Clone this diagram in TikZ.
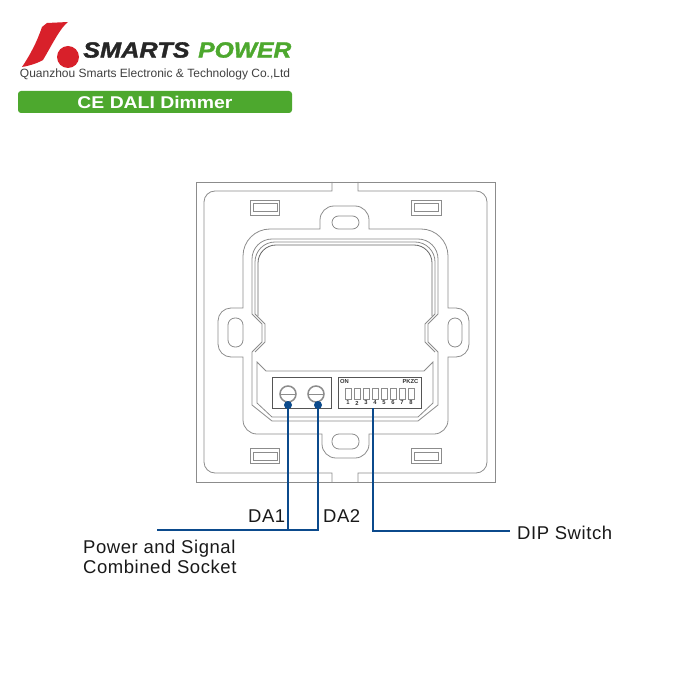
\documentclass[tikz,border=0pt]{standalone}
\usepackage{fontspec}
\setmainfont{Liberation Sans}
\newfontfamily\labelfont[LetterSpace=3]{Liberation Sans}
\newfontfamily\logofont[BoldItalicFeatures={FakeBold=1.5}]{Liberation Sans}
\usetikzlibrary{calc}
\definecolor{clrwire}{HTML}{0B4A8C}
\definecolor{clrframe}{HTML}{8C8C8C}
\definecolor{clrinner}{HTML}{666666}
\definecolor{clrbox}{HTML}{555555}
\definecolor{clrred}{HTML}{D8202A}
\definecolor{clrgreen}{HTML}{4DA82E}
\tikzset{
    frame/.style={draw=clrframe, line width=0.8pt},
    box/.style={draw=clrbox, line width=0.9pt},
    wire/.style={draw=clrwire, line width=1.6pt},
    dot/.style={fill=clrwire, circle, inner sep=0pt, minimum size=8pt},
    callout/.style={inner sep=0pt, text=black!90, font=\labelfont\fontsize{18.5}{20}\selectfont},
    tiny/.style={inner sep=0pt, text=black!80, font=\fontsize{5.8}{6}\selectfont\bfseries},
    logotext/.style={anchor=west, inner sep=0pt, font=\logofont\fontsize{22}{24}\selectfont\bfseries\itshape},
}

\begin{document}
\begin{tikzpicture}[x=1pt,y=-1pt]

    \useasboundingbox (0,0) rectangle (700,700);

    % logo
    \fill[clrred] (47,23) -- (68,22) .. controls (60,28) and (52,45) .. (43,60) .. controls (36,64) and (28,66) .. (22,67)
        .. controls (30,55) and (37,42) .. (42,27) -- cycle;
    \fill[clrred] (68,57) circle (11);
    \node[logotext, text=black!85] (smarts) at (83,50) {\scalebox{1.15}[1]{SMARTS}};
    \node[logotext, text=clrgreen] (power) at (198,50) {\scalebox{1.12}[1]{POWER}};
    \node[inner sep=0pt, text=black!75, font=\fontsize{12}{14}\selectfont] (company) at (155,74) {Quanzhou Smarts Electronic \& Technology Co.,Ltd};
    \fill[clrgreen, rounded corners=3pt] (18,91) rectangle (292,113);
    \node[inner sep=0pt, text=white, font=\fontsize{17}{19}\selectfont\bfseries] (title) at (155,102) {\scalebox{1.14}[1]{CE DALI Dimmer}};

    % plate
    \draw[frame] (196,182) rectangle (495,482);
    \draw[frame] (332,182) -- (332,191) [rounded corners=11pt] -- (204,191) -- (204,473) [sharp corners] -- (332,473) -- (332,482);
    \draw[frame] (358,182) -- (358,191) [rounded corners=11pt] -- (487,191) -- (487,473) [sharp corners] -- (358,473) -- (358,482);

    \draw[frame] (250,200) rectangle (279,215);
    \draw[frame] (253,203) rectangle (277,211);
    \draw[frame] (411,200) rectangle (441,215);
    \draw[frame] (414,203) rectangle (438,211);
    \draw[frame] (250,448) rectangle (279,463);
    \draw[frame] (253,452) rectangle (277,460);
    \draw[frame] (411,448) rectangle (441,463);
    \draw[frame] (414,452) rectangle (438,460);

    % contour with the four lobes
    \draw[frame] (320,229) [rounded corners=27pt] -- (243,229) [sharp corners] -- (243,308)
        [rounded corners=13pt] -- (218,308) -- (218,357) [sharp corners] -- (243,357)
        [rounded corners=14pt] -- (243,434) [sharp corners] -- (322,434)
        [rounded corners=14pt] -- (322,458) -- (369,458) [sharp corners] -- (369,434)
        [rounded corners=14pt] -- (448,434) [sharp corners] -- (448,357)
        [rounded corners=13pt] -- (469,357) -- (469,308) [sharp corners] -- (448,308)
        [rounded corners=27pt] -- (448,229) [sharp corners] -- (369,229)
        [rounded corners=14pt] -- (369,206) -- (320,206) [sharp corners] -- cycle;

    \draw[frame, rounded corners=6.5pt] (332,216) rectangle (359,229);
    \draw[frame, rounded corners=7pt] (332,434) rectangle (359,449);
    \draw[frame, rounded corners=7pt] (228,318) rectangle (243,347);
    \draw[frame, rounded corners=7pt] (448,318) rectangle (462,347);

    % window
    \foreach \d in {0,3} {
        \draw[frame] (252+\d,352) -- (262+\d,342) -- (262+\d,324) -- (252+\d,314)
            [rounded corners=20pt] -- (252+\d,239+\d) -- (438-\d,239+\d) [sharp corners] -- (438-\d,314)
            -- (428-\d,324) -- (428-\d,342) -- (438-\d,352);
    }
    \draw[frame, draw=clrinner] (258,316) [rounded corners=18pt] -- (258,245) -- (432,245) [sharp corners] -- (432,316);
    \draw[frame] (252,352) -- (252,405) -- (272,421) -- (418,421) -- (438,405) -- (438,352);
    \draw[frame] (257,362) -- (257,403) -- (272,417) -- (418,417) -- (433,403) -- (433,362) -- (424,371) -- (266,371) -- cycle;

    % terminals
    \fill[white] (272,377) rectangle (331,408);
    \draw[box] (272,377) rectangle (331,408);
    \draw[frame, line width=1.5pt] (288,394) circle (8);
    \draw[frame, line width=1.5pt] (316,394) circle (8);
    \draw[frame] (280,394) -- (296,394);
    \draw[frame] (308,394) -- (324,394);

    % dip switch
    \fill[white] (338,377) rectangle (421,408);
    \draw[box] (338,377) rectangle (421,408);
    \node[tiny] (on) at (344.5,382) {ON};
    \node[tiny] (pkzc) at (410.5,382) {PKZC};
    \foreach \n in {1,...,8} {
        \draw[frame] (339+9*\n-3,388) rectangle (339+9*\n+3,399);
        \node[tiny] (num\n) at (339+9*\n,403) {\n};
    }

    % connectors
    \node[dot] (dotone) at (288,405) {};
    \node[dot] (dottwo) at (318,405) {};
    \coordinate (dipout) at (373,408);
    \coordinate (busend) at (157,530);
    \coordinate (dipend) at (510,531);

    \draw[wire] (dotone.center) -- (dotone.center |- busend);
    \draw[wire] (dottwo.center) -- (dottwo.center |- busend) -- (busend);
    \draw[wire] (dipout) -- (dipout |- dipend) -- (dipend);

    \node[callout, anchor=base west] (daone) at (248,522) {DA1};
    \node[callout, anchor=base west] (datwo) at (323,522) {DA2};
    \node[callout, anchor=west] (dip) at (517,533) {DIP Switch};
    \node[callout, anchor=base west, align=left] (socket) at (83,573) {Power and Signal\\Combined Socket};

\end{tikzpicture}
\end{document}
